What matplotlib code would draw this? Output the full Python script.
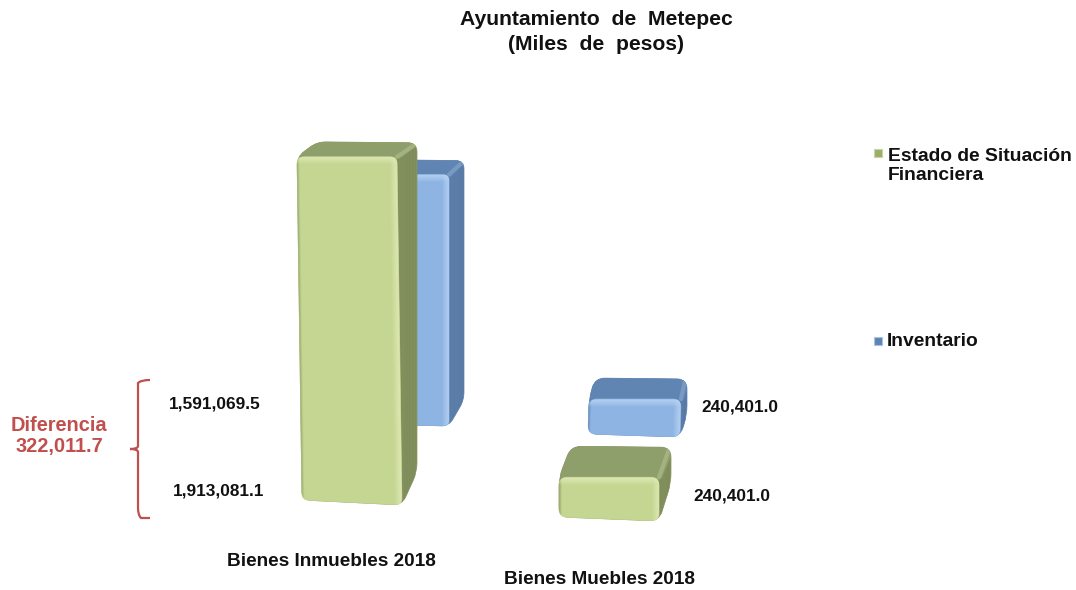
import numpy as np
import matplotlib
matplotlib.use("Agg")
import matplotlib.pyplot as plt
from matplotlib.patches import PathPatch
from matplotlib.path import Path

plt.rcParams['font.family'] = ['Liberation Sans', 'DejaVu Sans']

# ---------- data ----------
categories = ["Bienes Inmuebles 2018", "Bienes Muebles 2018"]
estado_situacion = [1913081.1, 240401.0]
inventario = [1591069.5, 240401.0]
series_names = ["Estado de Situación\nFinanciera", "Inventario"]
diferencia_label = "Diferencia\n322,011.7"
title_text = "Ayuntamiento  de  Metepec\n(Miles  de  pesos)"

W, H = 1076, 590
fig = plt.figure(figsize=(W / 100, H / 100), dpi=100, facecolor="white")

# overlay in pixel space, for the 3D faces and the annotations
ov = fig.add_axes([0, 0, 1, 1], zorder=5)
ov.set_xlim(0, W)
ov.set_ylim(H, 0)
ov.axis("off")
ov.patch.set_alpha(0)


def scale_axes(x0_px, x1_px, y0_px, units_per_px):
    """Invisible axes: category 0 at x0_px, category 1 at x1_px, value 0 at y0_px."""
    unit = x1_px - x0_px
    left, right = x0_px - unit / 2, x1_px + unit / 2
    bottom_px, top_px = 570, 60
    ax = fig.add_axes([left / W, 1 - bottom_px / H, (right - left) / W, (bottom_px - top_px) / H])
    ax.set_xlim(-0.5, 1.5)
    ax.set_ylim((y0_px - bottom_px) * units_per_px, (y0_px - top_px) * units_per_px)
    ax.axis("off")
    return ax


def to_px(ax, x, y):
    dx, dy = ax.transData.transform((x, y))
    return dx, H - dy


def rounded(pts, r, color, z, clip=None):
    """Closed polygon whose corners are rounded with quadratic curves."""
    pts = np.array(pts, float)
    n = len(pts)
    verts, codes = [], []
    for i in range(n):
        p, a, b = pts[i], pts[i - 1], pts[(i + 1) % n]
        ra = min(r, np.linalg.norm(a - p) * 0.45)
        rb = min(r, np.linalg.norm(b - p) * 0.45)
        start = p + (a - p) / np.linalg.norm(a - p) * ra
        end = p + (b - p) / np.linalg.norm(b - p) * rb
        verts += [start, p, end]
        codes += [Path.MOVETO if i == 0 else Path.LINETO, Path.CURVE3, Path.CURVE3]
    verts.append(verts[0])
    codes.append(Path.CLOSEPOLY)
    patch = PathPatch(Path(verts, codes), facecolor=color, edgecolor=color, lw=0.5, zorder=z)
    ov.add_patch(patch)
    if clip is not None:
        patch.set_clip_path(clip)
    return patch


def draw_box(ax, bar, depth, skew, tilt, rise, r, pal, z):
    x0, x1 = bar.get_x(), bar.get_x() + bar.get_width()
    y0, y1 = bar.get_y(), bar.get_y() + bar.get_height()
    bar.set_visible(False)
    xl, yb = to_px(ax, x0, y0)
    xr, yt = to_px(ax, x1, y1)
    dx, dy = depth
    fl_t, fr_t = (xl, yt), (xr, yt)
    fl_b, fr_b = (xl + skew, yb - tilt), (xr + skew, yb)
    bk_l, bk_r = (xl + dx, yt - dy), (xr + dx, yt - dy + 1)
    bk_b = (xr + dx, yb - rise)
    # full silhouette in the side colour
    sil = rounded([fl_t, bk_l, bk_r, bk_b, fr_b, fl_b], r + 2, pal["side"], z)
    # darker towards the back of the side face
    for i in range(7):
        f = i / 7
        line, = ov.plot([xr + f * dx] * 2, [yt - dy, yb], color=pal["dark"],
                        alpha=0.05 + 0.10 * f, lw=max(dx / 7, 1) * 1.0, zorder=z + 0.5)
        line.set_clip_path(sil)
    # top face, clipped to the silhouette
    rounded([fl_t, bk_l, (xr + dx + 4, yt - dy), (xr + 2, yt + 2)], 2, pal["top"], z + 1, clip=sil)
    # lit seam between top and side
    seam, = ov.plot([xr, xr + dx - 2], [yt, yt - dy + 3], color=pal["light"], alpha=0.25, lw=3,
                    solid_capstyle="round", zorder=z + 1.5)
    seam.set_clip_path(sil)
    # front face
    front = rounded([fl_t, fr_t, fr_b, fl_b], r, pal["front"], z + 2)
    for i in range(7):
        t = i + 0.5
        a = 0.6 * (1 - i / 7)
        l1, = ov.plot([xl, xr + 2], [yt + t, yt + t], color=pal["light"], alpha=a, lw=1.2, zorder=z + 3)
        l2, = ov.plot([xr - t, xr + skew - t], [yt, yb], color=pal["light"], alpha=a, lw=1.2, zorder=z + 3)
        l3, = ov.plot([xl + t - 1, xl + skew + t - 1], [yt, yb], color=pal["dark"],
                      alpha=0.35 * (1 - i / 3) if i < 3 else 0, lw=1.2, zorder=z + 3)
        for ln in (l1, l2, l3):
            ln.set_clip_path(front)


green = dict(front="#C5D692", top="#8F9F6B", side="#84925F", light="#E2ECBA", dark="#6F7C4E")
blue = dict(front="#8DB4E3", top="#6185B2", side="#5E81AC", light="#BCD6F5", dark="#47658C")

# back row (farther, so a smaller pixel scale and a shallower base drift)
ax_back = scale_axes(403, 635, 426, 1 / 1.58e-4)
ax_back.set_zorder(1)
back_bottom = [0, -11 / 1.58e-4]
bars_b = ax_back.bar([0, 1], inventario, width=92 / 232, bottom=back_bottom, color=blue["front"])

# front row
ax_front = scale_axes(347, 609, 505, 1 / 1.82e-4)
ax_front.set_zorder(2)
front_bottom = [0, -16 / 1.82e-4]
bars_f = ax_front.bar([0, 1], estado_situacion, width=100 / 262, bottom=front_bottom, color=green["front"])

draw_box(ax_back, bars_b[0], (15, 15), 0, 2, 26, 6, blue, 10)
draw_box(ax_back, bars_b[1], (6, 21), -1, 3, 22, 8, blue, 10)
draw_box(ax_front, bars_f[0], (20, 15), 5, 5, 33, 7, green, 20)
draw_box(ax_front, bars_f[1], (12, 31), 0, 4, 38, 8, green, 20)

# text
txt = dict(fontweight="bold", color="#111111", zorder=40)
ov.text(596, 32, title_text, ha="center", va="center", fontsize=15.2, linespacing=1.34, **txt)

lbl = 12.4
ov.text(215, 404, f"{inventario[0]:,.1f}", ha="center", va="center", fontsize=lbl, **txt)
ov.text(219, 491, f"{estado_situacion[0]:,.1f}", ha="center", va="center", fontsize=lbl, **txt)
ov.text(740, 407, f"{inventario[1]:,.1f}", ha="center", va="center", fontsize=lbl, **txt)
ov.text(732, 496, f"{estado_situacion[1]:,.1f}", ha="center", va="center", fontsize=lbl, **txt)
ov.text(331, 561, categories[0], ha="center", va="center", fontsize=13.7, **txt)
ov.text(599, 579, categories[1], ha="center", va="center", fontsize=13.7, **txt)

# legend
ov.scatter([878], [153], marker="s", s=28, color="#9BAF6C", edgecolors="#C9D89A", lw=0.8, zorder=40)
ov.scatter([878], [341], marker="s", s=28, color="#5E84B2", edgecolors="#A9C4E6", lw=0.8, zorder=40)
ov.text(888, 166, series_names[0], ha="left", va="center", fontsize=13.9, linespacing=1.22, **txt)
ov.text(887, 342, series_names[1], ha="left", va="center", fontsize=13.9, **txt)

# difference bracket
red = "#C0504D"
verts = [(150, 380), (141, 380), (138, 383), (138, 390), (138, 446), (138, 449), (130, 449),
         (138, 449), (138, 452), (138, 508), (138, 515), (141, 518), (150, 518)]
codes = [Path.MOVETO, Path.CURVE3, Path.CURVE3, Path.LINETO, Path.LINETO, Path.CURVE3, Path.CURVE3,
         Path.CURVE3, Path.CURVE3, Path.LINETO, Path.CURVE3, Path.CURVE3, Path.LINETO]
ov.add_patch(PathPatch(Path(verts, codes), fill=False, edgecolor=red, lw=1.6, zorder=30))
ov.text(59, 436, diferencia_label, ha="center", va="center", fontsize=14.4, color=red,
        fontweight="bold", linespacing=1.12, zorder=40)

fig.savefig("out.png", dpi=100)
